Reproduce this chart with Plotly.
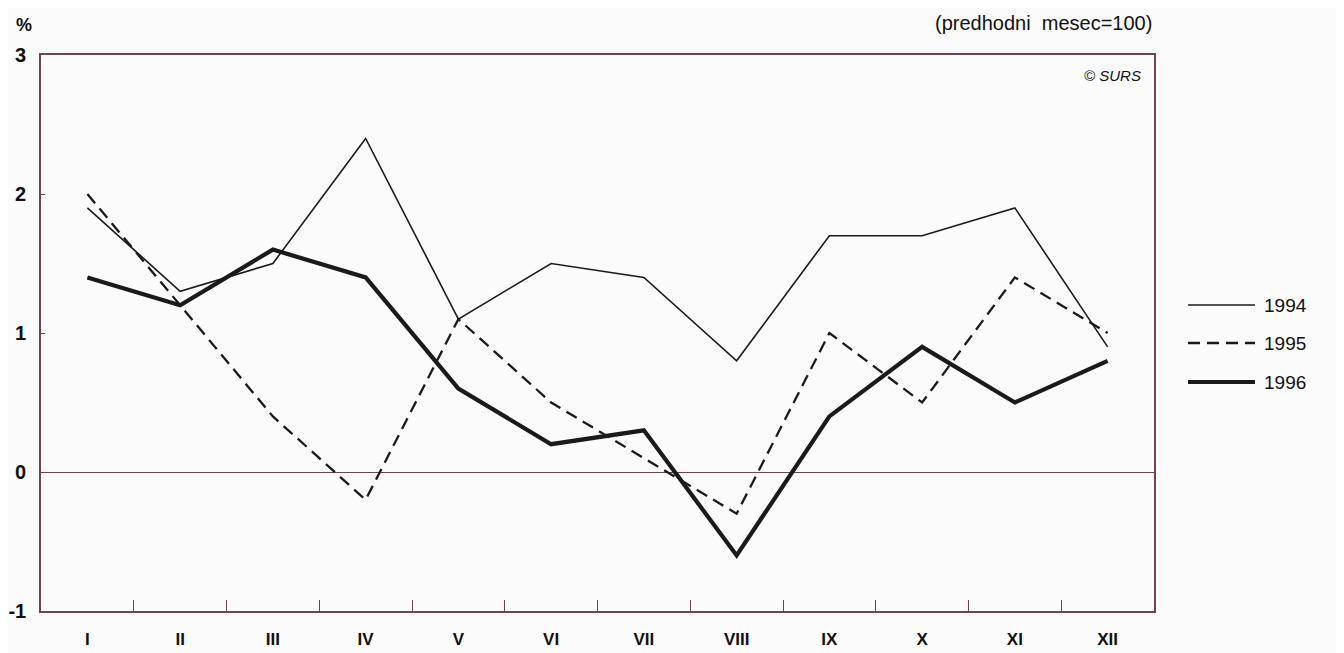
import plotly.graph_objects as go

months = ["I", "II", "III", "IV", "V", "VI", "VII", "VIII", "IX", "X", "XI", "XII"]
y1994 = [1.9, 1.3, 1.5, 2.4, 1.1, 1.5, 1.4, 0.8, 1.7, 1.7, 1.9, 0.9]
y1995 = [2.0, 1.2, 0.4, -0.2, 1.1, 0.5, 0.1, -0.3, 1.0, 0.5, 1.4, 1.0]
y1996 = [1.4, 1.2, 1.6, 1.4, 0.6, 0.2, 0.3, -0.6, 0.4, 0.9, 0.5, 0.8]
years = ["1994", "1995", "1996"]

axis_col = "#6e4452"
line_col = "#1a1a1a"
font_fam = "Liberation Sans, Arial, sans-serif"

PW, PH = 1113, 556  # plot area size in px

fig = go.Figure()
styles = [
    dict(width=1.6, dash="solid"),
    dict(width=2.3, dash="12px,7px"),
    dict(width=4.2, dash="solid"),
]
for name, ys, st in zip(years, [y1994, y1995, y1996], styles):
    fig.add_trace(go.Scatter(
        x=months, y=ys, mode="lines", name=name,
        line=dict(color=line_col, width=st["width"], dash=st["dash"]),
        showlegend=False,
    ))

# manual legend (lines + labels), in paper coordinates
leg_px = [305, 343, 382]  # vertical centres (px from top of window)
for name, st, py in zip(years, styles, leg_px):
    yy = 1 - (py - 55) / PH
    fig.add_shape(type="line", xref="paper", yref="paper",
                  x0=1.0 + (1188 - 1154) / PW, x1=1.0 + (1255 - 1154) / PW,
                  y0=yy, y1=yy,
                  line=dict(color=line_col, width=st["width"], dash=st["dash"]))
    fig.add_annotation(xref="paper", yref="paper",
                       x=1.0 + (1262 - 1154) / PW, y=yy, text=name,
                       showarrow=False, xanchor="left", yanchor="middle",
                       font=dict(size=19, color="#111", family=font_fam))

fig.add_annotation(xref="paper", yref="paper", x=-27 / PW, y=1 + 30 / PH,
                   text="<b>%</b>", showarrow=False, xanchor="left", yanchor="middle",
                   font=dict(size=18, color="#111", family=font_fam))
fig.add_annotation(xref="paper", yref="paper", x=1.0, y=1 + 32 / PH,
                   text="(predhodni  mesec=100)", showarrow=False,
                   xanchor="right", yanchor="middle",
                   font=dict(size=20, color="#111", family=font_fam))
fig.add_annotation(xref="paper", yref="paper", x=1.0 - 11 / PW, y=1 - 20 / PH,
                   text="<i>© SURS</i>", showarrow=False,
                   xanchor="right", yanchor="middle",
                   font=dict(size=15, color="#111", family=font_fam))

fig.update_layout(
    width=1336, height=645,
    margin=dict(l=33, r=1336 - 33 - PW, t=47, b=645 - 47 - PH, autoexpand=False),
    paper_bgcolor="#fbfbfb", plot_bgcolor="#fbfbfb",
    font=dict(family=font_fam, size=18, color="#111"),
    xaxis=dict(
        type="category", range=[-0.5, 11.5], automargin=False,
        tickson="boundaries", ticks="inside", ticklen=11, tickwidth=1.2,
        tickcolor=axis_col,
        showline=True, linecolor=axis_col, linewidth=1.6, mirror=True,
        showgrid=False, zeroline=False,
        tickfont=dict(size=17, family=font_fam, color="#111", weight="bold"),
        ticklabelstandoff=12,
    ),
    yaxis=dict(
        range=[-1, 3], automargin=False,
        tickvals=[-1, 0, 1, 2, 3], ticktext=["-1", "0", "1", "2", "3"],
        ticks="inside", ticklen=4, tickwidth=1.2, tickcolor=axis_col,
        showline=True, linecolor=axis_col, linewidth=1.6, mirror=True,
        showgrid=False, zeroline=True, zerolinecolor=axis_col, zerolinewidth=1.3,
        tickfont=dict(size=20, family=font_fam, color="#111", weight="bold"),
        ticklabelstandoff=9,
    ),
)

fig.write_html("out.html")
